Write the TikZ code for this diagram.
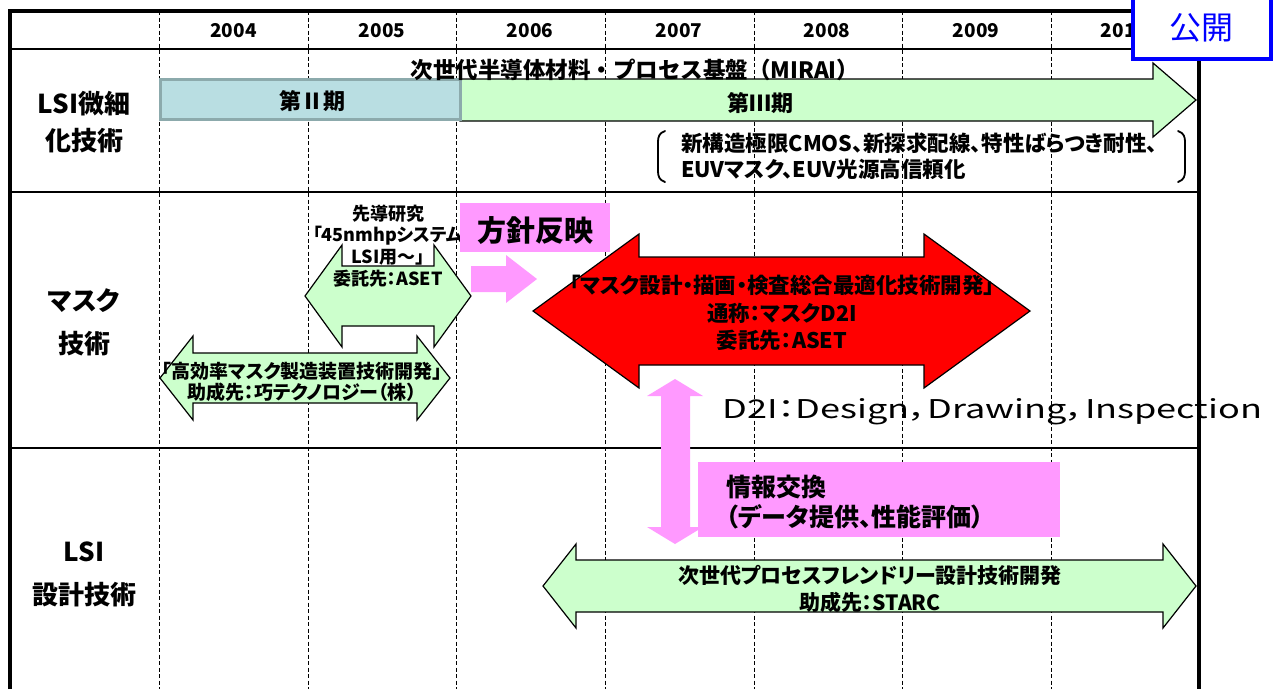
\documentclass[tikz,border=0pt]{standalone}
\usepackage{fontspec}
\setmainfont{Noto Sans CJK JP}[RawFeature=+palt]
\newfontfamily\jpfull{Noto Sans CJK JP}
\usepackage{graphicx}
\definecolor{lgreen}{RGB}{204,255,204}
\definecolor{lteal}{RGB}{185,222,226}
\definecolor{tealedge}{RGB}{140,170,172}
\definecolor{lpink}{RGB}{255,153,255}
\definecolor{kblue}{RGB}{0,0,255}
\newcommand\dblarrow[7]{% x1,x2,yc,bodyhalf,headhalf,headlen,style
  \path[#7] (#1,#3) -- ({#1+#6},{#3-#5}) -- ({#1+#6},{#3-#4}) -- ({#2-#6},{#3-#4})
    -- ({#2-#6},{#3-#5}) -- (#2,#3) -- ({#2-#6},{#3+#5}) -- ({#2-#6},{#3+#4})
    -- ({#1+#6},{#3+#4}) -- ({#1+#6},{#3+#5}) -- cycle;}
\newcommand\fs[2]{\fontsize{#1}{#2}\selectfont}
\begin{document}
\begin{tikzpicture}[x=1pt,y=-1pt,
  gridline/.style={line width=1pt, dash pattern=on 4pt off 2.5pt},
  rule/.style={line width=2.6pt},
  frame/.style={line width=3.8pt},
  garrow/.style={draw=black, line width=1.2pt, fill=lgreen, line join=miter},
  rarrow/.style={draw=black, line width=1.2pt, fill=red, line join=miter},
  parrow/.style={fill=lpink},
  yr/.style={font=\bfseries\fs{19}{22}, inner sep=0pt},
  rowlab/.style={font=\bfseries\fs{26}{43}, align=center, inner sep=0pt},
  atext/.style={font=\bfseries, align=center, inner sep=0pt},
  brk/.style={line width=1.8pt, line cap=round}]
\useasboundingbox (0,0) rectangle (1274,689);
\fill[white] (0,0) rectangle (1274,689);

% grid
\foreach \x in {159,308,456,605,754,902,1051}
  \draw[gridline] (\x,11) -- (\x,689);
\draw[rule] (10,49) -- (1199,49);
\draw[rule] (10,192) -- (1199,192);
\draw[rule] (10,448) -- (1199,448);

% header years
\foreach \y/\x in {2004/233.5,2005/382,2006/530,2007/679,2008/827,2009/976,2010/1124}
  \node[yr] (y\y) at (\x,31) {\y};

% row labels
\node[rowlab, font=\bfseries\fs{26}{37}] (lab1) at (84,122) {LSI微細\\化技術};
\node[rowlab] (lab2) at (84,322) {マスク\\技術};
\node[rowlab] (lab3) at (84,574) {LSI\\設計技術};

% row 1
\path[garrow] (460,79) -- (1153,79) -- (1153,63) -- (1196,100) -- (1153,137)
  -- (1153,121) -- (460,121) -- cycle;
\draw[fill=lteal, draw=tealedge, line width=3pt] (160,79) rectangle (460,119);
\node[atext, font=\jpfull\bfseries\fs{22}{26}] (ki2) at (312,101) {第Ⅱ期};
\node[atext, font=\jpfull\bfseries\fs{22}{26}] (ki3) at (760,103) {第Ⅲ期};
\node[atext, font=\jpfull\bfseries\fs{22.5}{26}] (mirai) at (635,70) {次世代半導体材料・プロセス基盤（MIRAI）};
\node[atext, font=\bfseries\fs{21.5}{26}, align=left, anchor=west] (mirai2) at (681,156)
  {新構造極限CMOS、新探求配線、特性ばらつき耐性、\\EUVマスク、EUV光源高信頼化};
\draw[brk] (665,131) .. controls (659,133) and (658,137) .. (658,142) -- (658,171)
  .. controls (658,176) and (659,180) .. (665,182);
\draw[brk] (1178,131) .. controls (1184,133) and (1185,137) .. (1185,142) -- (1185,171)
  .. controls (1185,176) and (1184,180) .. (1178,182);

% row 2
\dblarrow{305}{471}{296}{30}{51}{37}{garrow}
\node[atext, font=\bfseries\fs{18}{21.7}] (senko) at (388,246)
  {先導研究\\「45nmhpシステム\\LSI用～」\\委託先：ASET};
\dblarrow{160}{450}{378}{25}{42}{33}{garrow}
\node[atext, font=\bfseries\fs{19}{21}] (koko) at (302,382)
  {「高効率マスク製造装置技術開発」\\助成先：巧テクノロジー（株）};
\fill[lpink] (460,203) rectangle (610,252);
\node[atext, font=\bfseries\fs{29}{32}] (hoshin) at (535,231) {方針反映};
\path[parrow] (471,266) -- (506,266) -- (506,255) -- (537,279) -- (506,303)
  -- (506,292) -- (471,292) -- cycle;
\dblarrow{533}{1030}{311}{54}{77}{106}{rarrow}
\node[atext, font=\bfseries\fs{21.5}{27.5}] (d2i) at (782,313)
  {「マスク設計・描画・検査総合最適化技術開発」\\通称：マスクD2I\\委託先：ASET};
\node[inner sep=0pt, anchor=base west] (d2idef) at (722,418)
  {\resizebox{540pt}{20pt}{D2I：Design，Drawing，Inspection}};

% row 3
\dblarrow{543}{1196}{586}{26}{42}{33}{garrow}
\node[atext, font=\bfseries\fs{21}{27}] (starc) at (870,589)
  {次世代プロセスフレンドリー設計技術開発\\助成先：STARC};
\path[parrow] (675,379) -- (703,396) -- (690,396) -- (690,527) -- (703,527)
  -- (675,544) -- (647,527) -- (661,527) -- (661,396) -- (647,396) -- cycle;
\fill[lpink] (698,462) rectangle (1060,537);
\node[atext, font=\bfseries\fs{25}{30}, align=left, anchor=west] (joho) at (726,502)
  {情報交換\\（データ提供、性能評価）};

% frame
\draw[frame] (10,689) -- (10,11) -- (1199,11) -- (1199,689);

% public box
\draw[draw=kblue, line width=4pt, fill=white] (1133,-5) rectangle (1271,59);
\node[inner sep=0pt, text=kblue, font=\fs{32}{36}] (kokai) at (1201,28) {公開};
\end{tikzpicture}
\end{document}
